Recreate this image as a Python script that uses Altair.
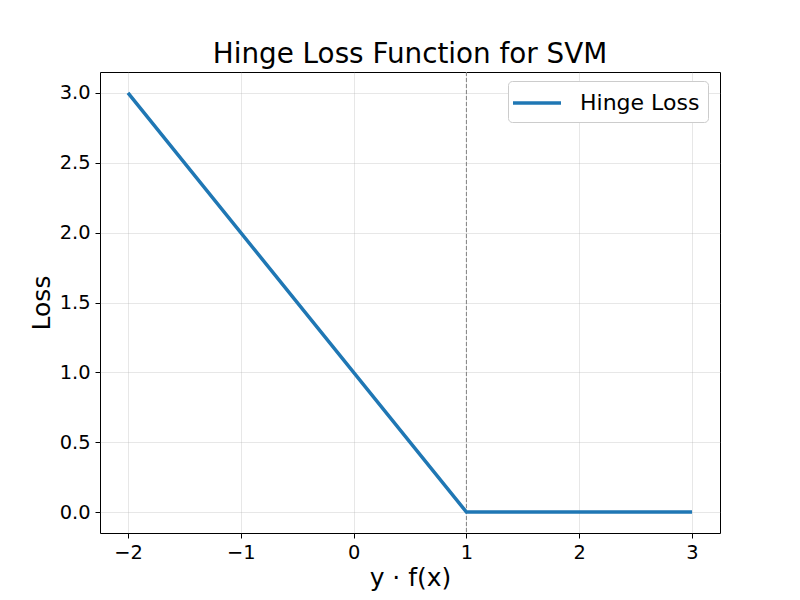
import altair as alt
import pandas as pd

margin_x = [-2, 1, 3]
loss = [3.0, 0.0, 0.0]
series = ["Hinge Loss"] * 3
threshold = [1]

df = pd.DataFrame({"x": margin_x, "loss": loss, "series": series})
rule_df = pd.DataFrame({"x": threshold})

xscale = alt.Scale(domain=[-2.248, 3.248], nice=False, zero=False)
yscale = alt.Scale(domain=[-0.15, 3.15], nice=False, zero=False)

axis_common = dict(
    labelFont="DejaVu Sans", labelFontSize=19.4, labelColor="black",
    titleFont="DejaVu Sans", titleFontSize=25, titleColor="black", titleFontWeight="normal",
    domain=False, tickColor="black", tickSize=5, tickWidth=1,
    gridColor="#b0b0b0", gridOpacity=0.3, gridWidth=1,
)

line = alt.Chart(df).mark_line(strokeWidth=3.5).encode(
    x=alt.X("x:Q", scale=xscale, title="y · f(x)",
            axis=alt.Axis(values=[-2, -1, 0, 1, 2, 3], format="d",
                          labelExpr="replace(datum.label, '-', '−')",
                          labelPadding=5, titlePadding=4, **axis_common)),
    y=alt.Y("loss:Q", scale=yscale, title="Loss",
            axis=alt.Axis(values=[0, 0.5, 1, 1.5, 2, 2.5, 3], format=".1f",
                          labelPadding=5, titlePadding=5, **axis_common)),
    color=alt.Color("series:N", scale=alt.Scale(range=["#1f77b4"]),
                    legend=alt.Legend(title=None, orient="none", legendX=408, legendY=9,
                                      symbolType="M-2,0L2,0", symbolSize=576, symbolStrokeWidth=3.5,
                                      symbolOffset=7,
                                      labelFont="DejaVu Sans", labelFontSize=22, labelColor="black",
                                      labelOffset=29, padding=8, cornerRadius=4,
                                      strokeColor="#cccccc", fillColor="white")),
)

rule = alt.Chart(rule_df).mark_rule(color="gray", strokeWidth=1, strokeDash=[4, 2]).encode(
    x=alt.X("x:Q", scale=xscale)
)

chart = alt.layer(rule, line).properties(
    width=620, height=461,
    title=alt.TitleParams("Hinge Loss Function for SVM", font="DejaVu Sans", fontSize=27.8,
                          fontWeight="normal", color="black", offset=3),
    autosize=alt.AutoSizeParams(type="none"),
    padding={"left": 92, "top": 64, "right": 72, "bottom": 59},
).configure(background="white", view=alt.ViewConfig(stroke="black", strokeWidth=1))

chart.save("out.html", embed_options={"renderer": "svg", "actions": False})
